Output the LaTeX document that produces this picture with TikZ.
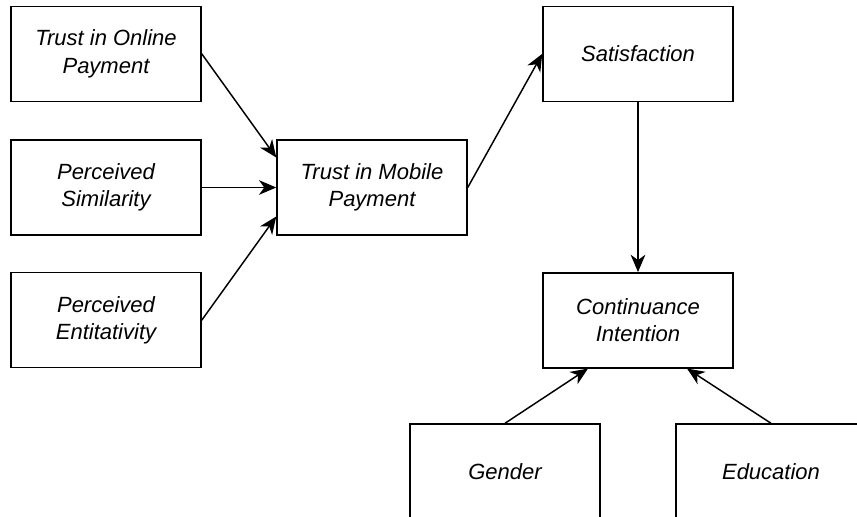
\documentclass[tikz,border=0pt]{standalone}
\usepackage{fontspec}
\setmainfont{Liberation Sans}
\usetikzlibrary{arrows.meta,calc}

\tikzset{
  x=0.75pt, y=-0.75pt,
  box/.style={draw=black, line width=1.1pt, fill=white, rectangle,
    minimum width=142.5pt, minimum height=71.25pt, inner sep=0pt,
    align=center, font=\fontsize{16.5pt}{20.5pt}\selectfont\itshape},
  link/.style={draw=black, line width=1.1pt,
    -{Stealth[length=13pt, width=11pt, inset=4pt]}}
}

\begin{document}
\begin{tikzpicture}
\useasboundingbox (0,0) rectangle (857,517);
\clip (0,0) rectangle (857,517);

% antecedents
\node[box] (top) at (106,53.8)  {Trust in Online\\Payment};
\node[box] (ps)  at (106,187.5) {Perceived\\Similarity};
\node[box] (pe)  at (106,320.2) {Perceived\\Entitativity};

% mediators and outcome
\node[box] (tmp) at (372,187.5) {Trust in Mobile\\Payment};
\node[box] (sat) at (638,53.8)  {Satisfaction};
\node[box] (ci)  at (638,320.3) {Continuance\\Intention};

% controls
\node[box] (gen) at (505,471.5) {Gender};
\node[box] (edu) at (771,471.5) {Education};

% paths
\draw[link] (top.east) -- ($(tmp.west)+(0,-30)$);
\draw[link] (ps.east) -- (tmp.west);
\draw[link] (pe.east) -- ($(tmp.west)+(0,29)$);
\draw[link] (tmp.east) -- (sat.west);
\draw[link] (sat.south) -- (ci.north);
\draw[link] (gen.north) -- ($(ci.south)+(-50,0)$);
\draw[link] (edu.north) -- ($(ci.south)+(49,0)$);
\end{tikzpicture}
\end{document}
